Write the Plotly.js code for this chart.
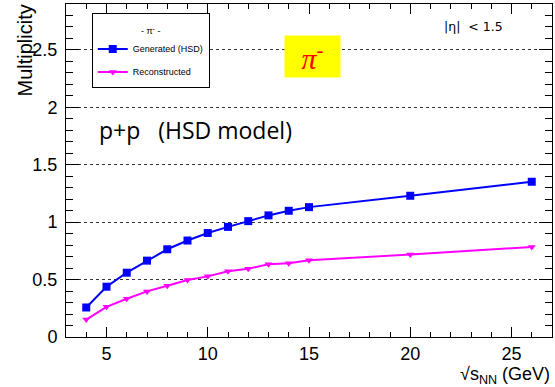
<!DOCTYPE html>
<html>
<head>
<meta charset="utf-8">
<script src="https://cdn.plot.ly/plotly-3.0.1.min.js"></script>
<style>html,body{margin:0;padding:0;background:#fff;}#chart{width:555px;height:387px;}</style>
</head>
<body>
<div id="chart"></div>
<script>
const energies = [4, 5, 6, 7, 8, 9, 10, 11, 12, 13, 14, 15, 20, 26];
const generated = [0.257, 0.438, 0.560, 0.665, 0.764, 0.840, 0.906, 0.959, 1.009, 1.059, 1.099, 1.131, 1.230, 1.352];
const reconstructed = [0.152, 0.263, 0.333, 0.397, 0.447, 0.496, 0.528, 0.572, 0.595, 0.633, 0.642, 0.668, 0.718, 0.784];
const seriesNames = ['Generated (HSD)', 'Reconstructed'];
const xTickVals = [5, 10, 15, 20, 25];
const yTickVals = [0, 0.5, 1, 1.5, 2, 2.5];
const yTickText = ['0', '0.5', '1', '1.5', '2', '2.5'];

const font = 'Liberation Sans, Arial, sans-serif';

const traces = [
  {
    x: energies, y: generated, name: seriesNames[0], type: 'scatter', mode: 'lines+markers',
    line: {color: '#0000ff', width: 2},
    marker: {symbol: 'square', size: 8, color: '#0000ff'},
    legendgroup: 'g1'
  },
  {
    x: energies, y: reconstructed, name: seriesNames[1], type: 'scatter', mode: 'lines+markers',
    line: {color: '#ff00ff', width: 2},
    marker: {symbol: 'triangle-down', size: 7, color: '#ff00ff'},
    legendgroup: 'g2'
  }
];

const layout = {
  width: 555, height: 387,
  margin: {l: 66, r: 3, t: 4, b: 50, pad: 0},
  paper_bgcolor: '#fff', plot_bgcolor: '#fff',
  font: {family: font, size: 18, color: '#000'},
  showlegend: true,
  legend: {
    x: 0.053, y: 0.974, xanchor: 'left', yanchor: 'top',
    bgcolor: '#fff', bordercolor: '#000', borderwidth: 1,
    font: {family: font, size: 9, color: '#000'},
    title: {text: '<span style="font-size:9px">- π<sup>-</sup> -</span>', side: 'top center', font: {family: font, size: 16}},
    traceorder: 'grouped', tracegroupgap: 4,
    itemwidth: 30
  },
  xaxis: {
    range: [3, 27], showgrid: false, zeroline: false,
    tickmode: 'array', tickvals: xTickVals, ticktext: xTickVals.map(String),
    ticks: 'inside', ticklen: 10, tickcolor: '#000', tickwidth: 1,
    minor: {dtick: 1, ticks: 'inside', ticklen: 5, tickcolor: '#000', showgrid: false},
    showline: true, linecolor: '#000', linewidth: 1, mirror: 'allticks',
    tickfont: {family: font, size: 18}, ticklabelstandoff: 0
  },
  yaxis: {
    range: [0, 2.9], zeroline: false,
    tickmode: 'array', tickvals: yTickVals, ticktext: yTickText,
    showgrid: true, gridcolor: '#333', griddash: 'dot', gridwidth: 1,
    ticks: 'inside', ticklen: 13, tickcolor: '#000', tickwidth: 1,
    minor: {dtick: 0.1, tick0: 0, ticks: 'inside', ticklen: 7, tickcolor: '#000', showgrid: false},
    showline: true, linecolor: '#000', linewidth: 1, mirror: 'allticks',
    tickfont: {family: font, size: 18}, ticklabelstandoff: 4
  },
  annotations: [
    {text: 'Multiplicity', xref: 'paper', yref: 'paper', x: -0.084, y: 1.005, xanchor: 'center', yanchor: 'top',
     textangle: -90, showarrow: false, font: {family: font, size: 20}},
    {text: '√s<sub>NN</sub> (GeV)', xref: 'paper', yref: 'paper', x: 1.0, y: -0.116, xanchor: 'right', yanchor: 'middle',
     showarrow: false, font: {family: font, size: 18}},
    {text: '<i>π</i><sup>-</sup>', xref: 'paper', yref: 'paper', x: 0.508, y: 0.841, xanchor: 'center', yanchor: 'middle',
     showarrow: false, bgcolor: '#ffff00', width: 53, height: 39, font: {family: 'Liberation Serif, serif', size: 30, color: '#ff0000'}},
    {text: '|η|  < 1.5', xref: 'paper', yref: 'paper', x: 0.774, y: 0.932, xanchor: 'left', yanchor: 'middle',
     showarrow: false, font: {family: 'DejaVu Sans, sans-serif', size: 12.5}},
    {text: 'p+p\u00a0\u00a0\u00a0(HSD model)', xref: 'paper', yref: 'paper', x: 0.063, y: 0.622, xanchor: 'left', yanchor: 'middle',
     showarrow: false, font: {family: 'Open Sans, sans-serif', size: 23}}
  ]
};

Plotly.newPlot('chart', traces, layout, {displayModeBar: false, staticPlot: true});
</script>
</body>
</html>
